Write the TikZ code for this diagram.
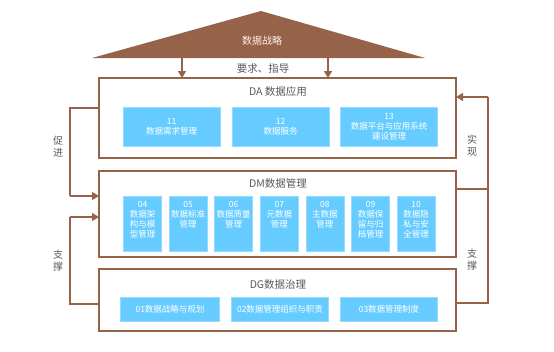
\documentclass[tikz,border=0pt]{standalone}
\usepackage{fontspec}
\newfontfamily\cjk{Noto Sans CJK SC}
\usetikzlibrary{arrows.meta}
\definecolor{brown}{RGB}{150,99,74}
\definecolor{skyblue}{RGB}{102,204,255}
\definecolor{txtgray}{RGB}{89,89,89}
\begin{document}
\begin{tikzpicture}[
    x=1pt, y=-1pt,
    every node/.style={font=\cjk\fontsize{8.5}{10}\selectfont, inner sep=0pt, outer sep=0pt},
    layer/.style={draw=brown, line width=2.4pt, minimum width=357pt},
    title/.style={font=\cjk\fontsize{10.5}{12}\selectfont, text=txtgray},
    item/.style={fill=skyblue, draw=skyblue!70!white, line width=0.6pt, text=white, align=center},
    side/.style={font=\cjk\fontsize{10}{12}\selectfont, text=txtgray, align=center},
    link/.style={draw=brown, line width=1.4pt},
    arr/.style={link, -{Triangle[length=7pt,width=8pt]}}
]
\useasboundingbox (0,0) rectangle (554,351);

% Strategy roof
\fill[brown] (92,58) -- (261,11) -- (425,58) -- cycle;
\node[font=\cjk\fontsize{10}{12}\selectfont, text=orange!10!white] (strat) at (262,41) {数据战略};
\coordinate (s1) at (182,58);
\coordinate (s2) at (328,58);
\node[title] (guide) at (263,69) {要求、指导};

% DA layer
\node[layer, minimum height=80pt] (da) at (277.5,118) {};
\node[title] (datitle) at (278,92) {DA 数据应用};
\node[item, minimum width=97pt, minimum height=39pt] (a11) at (171.5,126.5) {11\\数据需求管理};
\node[item, minimum width=97pt, minimum height=39pt] (a12) at (280.5,126.5) {12\\数据服务};
\node[item, minimum width=97pt, minimum height=39pt] (a13) at (389,126.5) {13\\数据平台与应用系统\\建设管理};

% DM layer
\node[layer, minimum height=86pt] (dm) at (277.5,214) {};
\node[title] (dmtitle) at (278,184) {DM数据管理};
\foreach \i/\t [count=\k from 0] in {04/数据架\\构与模\\型管理, 05/数据标准\\管理, 06/数据质量\\管理,
    07/元数据\\管理, 08/主数据\\管理, 09/数据保\\留与归\\档管理, 10/数据隐\\私与安\\全管理} {
  \node[item, minimum width=38pt, minimum height=55pt] (m\i) at (142.5+45.6*\k,223.5) {};
  \node[text=white, align=center, anchor=north] at ([yshift=-5pt]m\i.north) {\i\\\t};
}

% DG layer
\node[layer, minimum height=62pt] (dg) at (277.5,300) {};
\node[title] (dgtitle) at (278,285) {DG数据治理};
\node[item, minimum width=99pt, minimum height=24pt] (g01) at (170,309) {01数据战略与规划};
\node[item, minimum width=97pt, minimum height=24pt] (g02) at (280,309) {02数据管理组织与职责};
\node[item, minimum width=97pt, minimum height=24pt] (g03) at (389,309) {03数据管理制度};

% Arrows from strategy
\draw[arr] (s1) -- (s1 |- da.north);
\draw[arr] (s2) -- (s2 |- da.north);

% Left side
\coordinate (l1) at (70,108);
\coordinate (l2) at (70,196);
\coordinate (l3) at (70,217);
\coordinate (l4) at (70,304);
\draw[link] (da.west |- l1) -- (l1) -- (l2);
\draw[arr] (l2) -- (dm.west |- l2);
\draw[link] (dg.west |- l4) -- (l4) -- (l3);
\draw[arr] (l3) -- (dm.west |- l3);
\node[side] (push) at (58,147) {促\\进};
\node[side] (supl) at (58,261) {支\\撑};

% Right side
\coordinate (r1) at (488,97);
\coordinate (r2) at (488,189);
\coordinate (r3) at (488,303);
\draw[link] (dm.east |- r2) -- (r2);
\draw[link] (dg.east |- r3) -- (r3) -- (r1);
\draw[arr] (r1) -- (da.east |- r1);
\node[side] (real) at (472,146) {实\\现};
\node[side] (supr) at (472,260) {支\\撑};
\end{tikzpicture}
\end{document}
